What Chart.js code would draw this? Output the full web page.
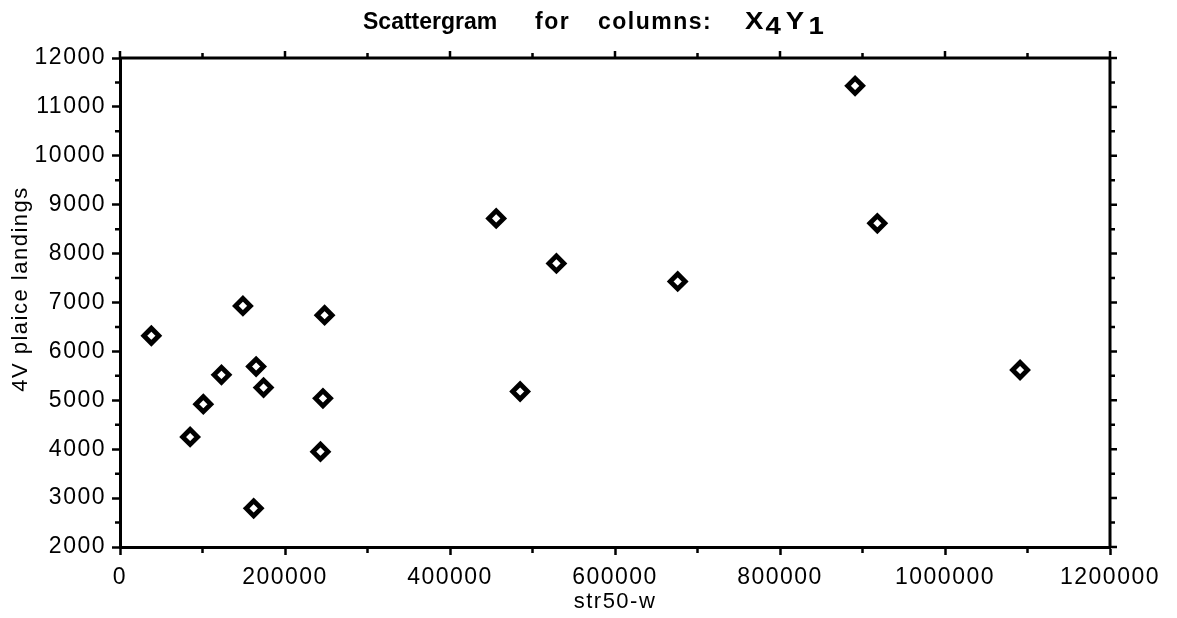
<!DOCTYPE html>
<html>
<head>
<meta charset="utf-8">
<script src="https://cdn.jsdelivr.net/npm/chart.js@4"></script>
<style>
  html, body { margin: 0; padding: 0; background: #fff; }
</style>
</head>
<body>
<canvas id="grafico" width="1177" height="618"></canvas>
<script>
// str50-w (x) against 4V plaice landings (y)
const strX = [38000, 85000, 101000, 123000, 149000, 162000, 165000, 174000, 243000, 246000, 248000,
              456000, 485000, 529000, 676000, 891000, 918000, 1091000];
const plaiceY = [6320, 4250, 4920, 5520, 6930, 2790, 5690, 5260, 3950, 5040, 6740,
                 8720, 5180, 7800, 7430, 11430, 8620, 5620];
const xTicks = [0, 200000, 400000, 600000, 800000, 1000000, 1200000];
const yTicks = [2000, 3000, 4000, 5000, 6000, 7000, 8000, 9000, 10000, 11000, 12000];
const xMinor = 100000;
const yMinor = 500;

const fam = "'Liberation Sans', Arial, Helvetica, sans-serif";

// the scanned Helvetica is spaced wider than Arial
const espaco = {
  id: 'espaco',
  beforeUpdate(chart) { chart.ctx.letterSpacing = '1.5px'; },
  beforeDraw(chart) { chart.ctx.letterSpacing = '1.5px'; }
};

// box round the plot, minor ticks, ticks on top/right, titles
const moldura = {
  id: 'moldura',
  afterDraw(chart) {
    const ctx = chart.ctx;
    const a = chart.chartArea;
    const sx = chart.scales.x, sy = chart.scales.y;
    ctx.save();
    ctx.strokeStyle = '#000';
    ctx.lineWidth = 3;
    ctx.beginPath();
    ctx.moveTo(a.left, a.top); ctx.lineTo(a.right, a.top);
    ctx.moveTo(a.right, a.top); ctx.lineTo(a.right, a.bottom);
    ctx.stroke();

    ctx.lineWidth = 2.5;
    ctx.beginPath();
    for (let v = sx.min; v <= sx.max; v += xMinor) {
      const px = sx.getPixelForValue(v);
      const major = v % 200000 === 0;
      if (!major) { ctx.moveTo(px, a.bottom); ctx.lineTo(px, a.bottom + 6); }
      ctx.moveTo(px, a.top); ctx.lineTo(px, a.top - (major ? 7 : 5));
    }
    for (let v = sy.min; v <= sy.max; v += yMinor) {
      const py = sy.getPixelForValue(v);
      const major = v % 1000 === 0;
      if (!major) { ctx.moveTo(a.left, py); ctx.lineTo(a.left - 5, py); }
      ctx.moveTo(a.right, py); ctx.lineTo(a.right + (major ? 7 : 5), py);
    }
    ctx.stroke();

    // y axis title
    ctx.fillStyle = '#000';
    ctx.font = '22px ' + fam;
    ctx.letterSpacing = '1.5px';
    ctx.textAlign = 'center';
    ctx.textBaseline = 'middle';
    ctx.save();
    ctx.translate(21, 289);
    ctx.rotate(-Math.PI / 2);
    ctx.fillText('4V plaice landings', 0, 0);
    ctx.restore();

    // title
    ctx.font = 'bold 23px ' + fam;
    ctx.textBaseline = 'alphabetic';
    ctx.textAlign = 'left';
    ctx.letterSpacing = '0px';
    ctx.fillText('Scattergram', 363, 29);
    ctx.letterSpacing = '1.5px';
    ctx.fillText('for', 535, 29);
    ctx.fillText('columns:', 598, 29);
    ctx.letterSpacing = '0px';
    ctx.save();
    ctx.translate(745, 29);
    ctx.scale(1.2, 1);
    ctx.fillText('X', 0, 0);
    ctx.fillText('4', 17, 5);
    ctx.fillText('Y', 34, 0);
    ctx.fillText('1', 53, 5);
    ctx.restore();
    ctx.restore();
  }
};

const config = {
  type: 'scatter',
  data: {
    datasets: [{
      label: '4V plaice landings',
      data: strX.map((x, i) => ({ x: x, y: plaiceY[i] })),
      pointStyle: 'rectRot',
      pointRadius: 7.5,
      pointBorderWidth: 4.8,
      borderColor: '#000',
      backgroundColor: 'transparent'
    }]
  },
  options: {
    responsive: false,
    animation: false,
    layout: { padding: { top: 58, right: 67, left: 0, bottom: 0 } },
    plugins: {
      legend: { display: false },
      tooltip: { enabled: false }
    },
    scales: {
      x: {
        type: 'linear',
        min: 0,
        max: 1200000,
        afterBuildTicks: s => { s.ticks = xTicks.map(v => ({ value: v })); },
        afterFit: s => { s.height = 71; },
        ticks: {
          color: '#000',
          font: { family: fam, size: 23 },
          padding: 9,
          maxRotation: 0,
          autoSkip: false,
          callback: v => String(v)
        },
        grid: { drawOnChartArea: false, tickLength: 8, tickWidth: 2.5, tickColor: '#000' },
        border: { display: true, color: '#000', width: 3 },
        title: {
          display: true,
          text: 'str50-w',
          color: '#000',
          font: { family: fam, size: 22 },
          padding: { top: 0, bottom: 3 }
        }
      },
      y: {
        type: 'linear',
        min: 2000,
        max: 12000,
        afterBuildTicks: s => { s.ticks = yTicks.map(v => ({ value: v })); },
        afterFit: s => { s.width = 120; },
        ticks: {
          color: '#000',
          font: { family: fam, size: 23 },
          padding: 6,
          autoSkip: false,
          callback: v => String(v)
        },
        grid: { drawOnChartArea: false, tickLength: 8, tickWidth: 2.5, tickColor: '#000' },
        border: { display: true, color: '#000', width: 3 },
        title: { display: false }
      }
    }
  },
  plugins: [espaco, moldura]
};

const chartGrafico = new Chart(document.getElementById('grafico'), config);
</script>
</body>
</html>
